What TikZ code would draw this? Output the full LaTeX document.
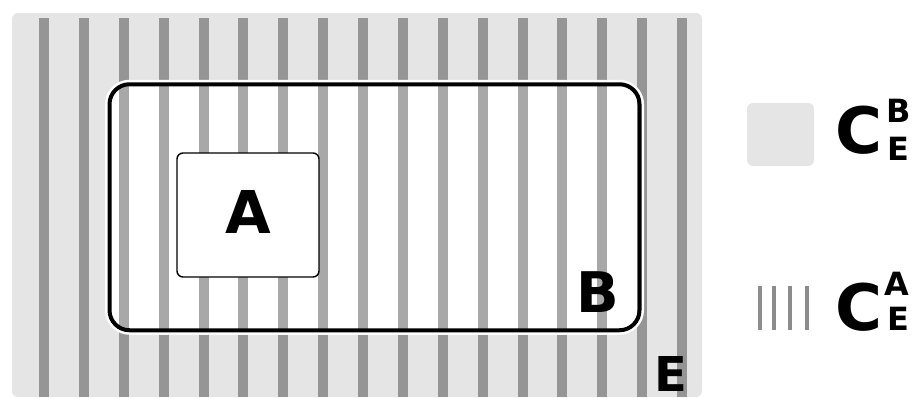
\documentclass[tikz,border=0pt]{standalone}
\usepackage{fontspec}
\setmainfont{DejaVu Sans}
\usepackage{xcolor}
\definecolor{ebg}{HTML}{E5E5E5}
\definecolor{stripeout}{HTML}{959595}
\definecolor{stripein}{HTML}{A8A8A8}
\definecolor{stripekey}{HTML}{8C8C8C}
\usetikzlibrary{positioning}

\begin{document}
\begin{tikzpicture}[
  x=1pt,y=-1pt,
  bhalo/.style={rectangle,rounded corners=20pt,minimum width=530pt,
    minimum height=246pt,inner sep=0pt,outer sep=0pt,draw=white,
    line width=9pt,fill=white},
  bline/.style={draw=black,line width=4pt,rounded corners=20pt},
  abox/.style={rectangle,rounded corners=6pt,minimum width=142pt,
    minimum height=124pt,inner sep=0pt,draw=black,line width=1.4pt,
    fill=white,text depth=7pt,font=\fontsize{59}{59}\selectfont\bfseries},
  swatch/.style={rectangle,rounded corners=6pt,minimum width=67pt,
    minimum height=63pt,inner sep=0pt,fill=ebg},
  bigl/.style={inner sep=0pt,font=\fontsize{#1}{#1}\selectfont\bfseries},
  keyc/.style={inner sep=0pt,font=\fontsize{64}{64}\selectfont\bfseries},
  keyidx/.style={inner sep=0pt,font=\fontsize{32}{32}\selectfont\bfseries}
]
  \useasboundingbox (0,0) rectangle (915,397);

  % region E with its stripes
  \fill[ebg,rounded corners=6pt] (12,13) rectangle (702,397);
  \foreach \i in {0,...,16} {
    \pgfmathsetmacro\sx{44+39.875*\i}
    \fill[stripeout] (\sx-5,18) rectangle (\sx+5,397);
  }

  % region B
  \node[bhalo] (B) at (374.5,207.25) {};
  \begin{scope}
    \clip[rounded corners=20pt] (B.north west) rectangle (B.south east);
    \foreach \i in {0,...,16} {
      \pgfmathsetmacro\sx{44+39.875*\i}
      \fill[stripein] (\sx-5,80) rectangle (\sx+5,335);
    }
  \end{scope}
  \node[abox] (A) at (248,215) {A};
  \draw[bline] (B.north west) rectangle (B.south east);

  \node[bigl=56] (Blbl) at (598,292.5) {B};
  \node[bigl=48] (Elbl) at (670.5,374) {E};

  % legend
  \node[swatch] (keyE) at (780.5,134.5) {};
  \node[keyc] (cB) at (858.5,130.5) {C};
  \node[keyidx] (cBsup) at (899,110.5) {B};
  \node[keyidx] (cBsub) at (898,148.5) {E};

  \foreach \kx in {759.5,774,790,807}
    \draw[stripekey,line width=4pt] (\kx,286) -- (\kx,330);
  \node[keyc] (cA) at (858.5,307) {C};
  \node[keyidx] (cAsup) at (897,283.5) {A};
  \node[keyidx] (cAsub) at (898,319) {E};
\end{tikzpicture}
\end{document}
